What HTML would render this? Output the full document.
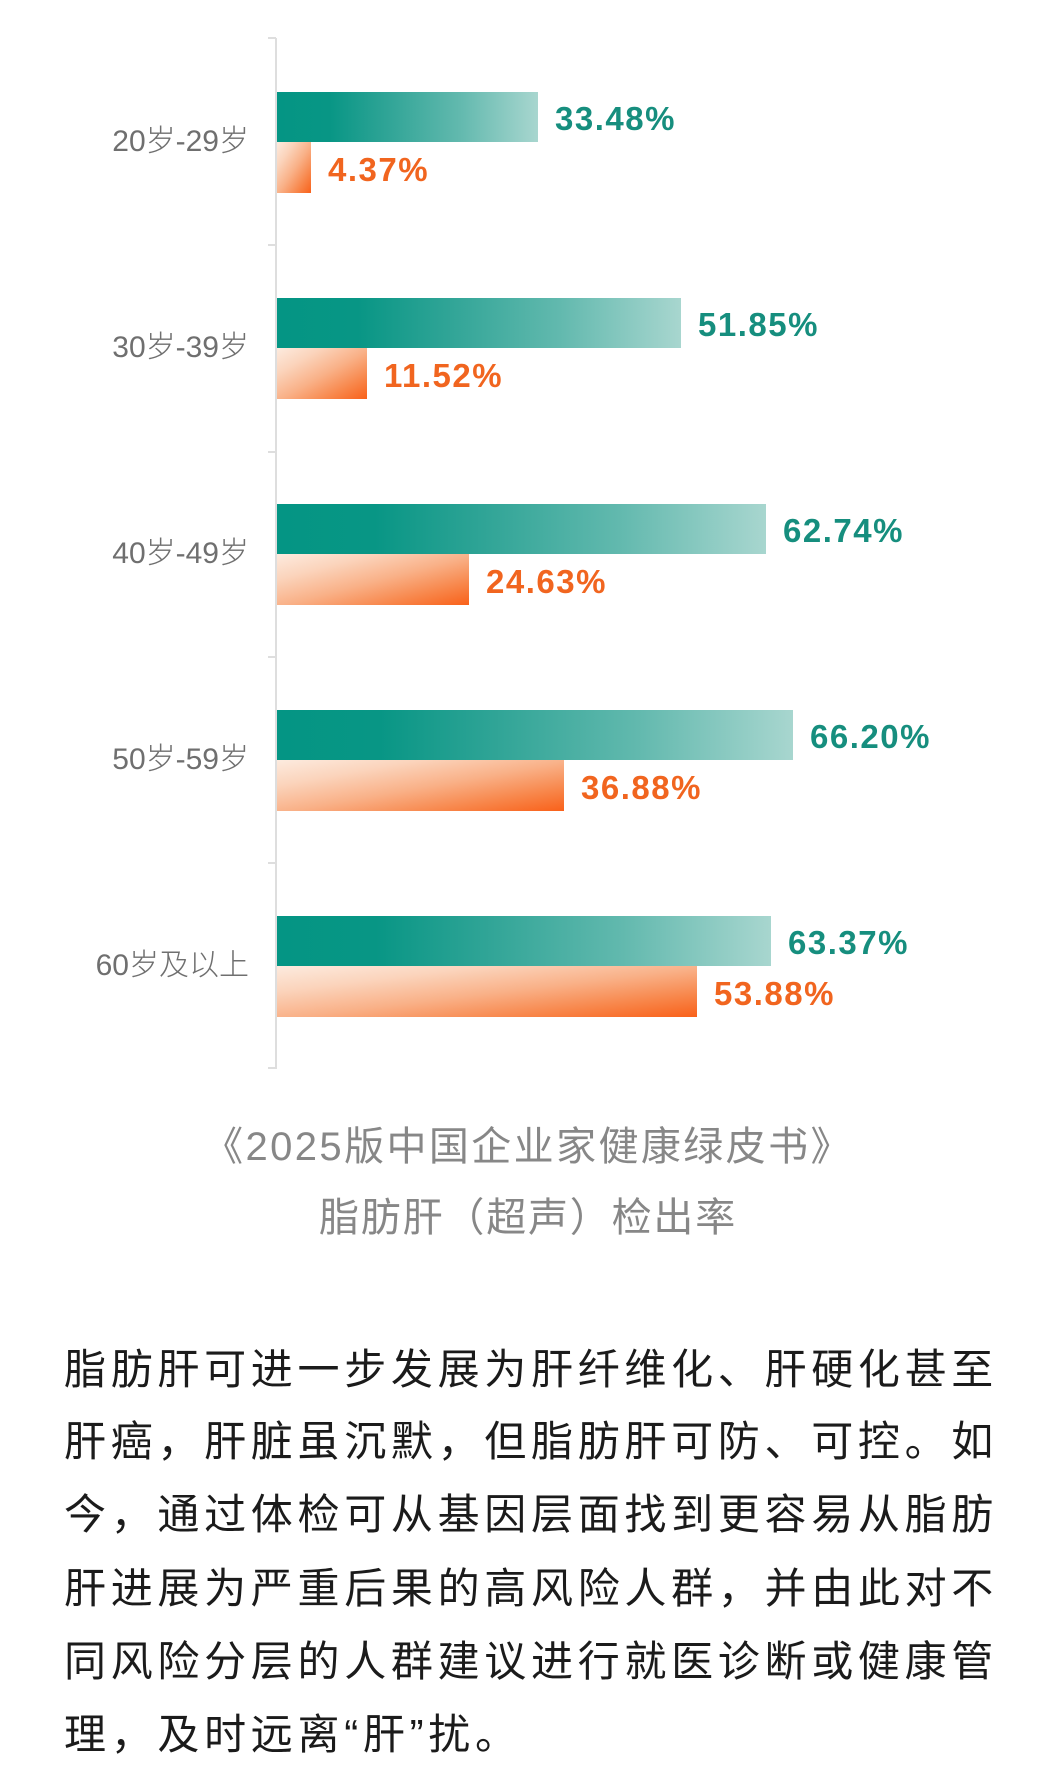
<!DOCTYPE html>
<html>
<head>
<meta charset="utf-8">
<style>
  html, body { margin:0; padding:0; background:#fff; }
  body { width:1052px; height:1764px; position:relative; overflow:hidden;
         font-family:"Liberation Sans","Noto Sans CJK SC",sans-serif; }
  .axis { position:absolute; left:275px; top:38px; width:2px; height:1031px; background:#dedede; }
  .tick { position:absolute; left:268px; width:8px; height:2px; background:#dedede; }
  .teal { position:absolute; left:277px; height:50px;
          background:linear-gradient(90deg,#049584 0%,#089685 20%,#2fa496 42%,#62b9ae 70%,#a8d6cf 100%); }
  .orng { position:absolute; left:277px; height:51px;
          background:linear-gradient(to bottom right,#fcebdf 0%,#fbd4bc 25%,#f9b188 52%,#f8864a 78%,#f9611a 100%); }
  .cat { position:absolute; left:0; width:249px; height:40px; line-height:40px; text-align:right;
         font-family:"Liberation Sans","Noto Sans CJK SC",sans-serif; font-size:30px; font-weight:300; color:#6f6f6f; white-space:nowrap; }
  .vt, .vo { position:absolute; height:40px; line-height:40px; font-size:33px; font-weight:bold;
             letter-spacing:1.5px; white-space:nowrap; font-family:"Liberation Sans",sans-serif; }
  .vt { color:#168e7e; }
  .vo { color:#f1651f; }
  .cap { position:absolute; left:0; width:1052px; text-align:center; font-size:40px; line-height:50px;
         color:#878787; white-space:nowrap;
         font-family:"Liberation Sans","Noto Sans CJK SC",sans-serif; }
  .bl { position:absolute; left:64px; font-size:42px; line-height:73px; height:73px; letter-spacing:4.7px;
        color:#1b1b1b; white-space:nowrap; font-family:"Liberation Sans","Noto Sans CJK SC",sans-serif; }
</style>
</head>
<body>
  <div class="axis"></div>
  <div class="tick" style="top:37px"></div>
  <div class="tick" style="top:244px"></div>
  <div class="tick" style="top:451px"></div>
  <div class="tick" style="top:656px"></div>
  <div class="tick" style="top:862px"></div>
  <div class="tick" style="top:1067px"></div>

  <!-- group 1 : c=142 -->
  <div class="cat" style="top:122px">20岁-29岁</div>
  <div class="teal" style="top:92px;width:261px"></div>
  <div class="orng" style="top:142px;width:34px"></div>
  <div class="vt" style="top:99px;left:555px">33.48%</div>
  <div class="vo" style="top:150px;left:328px">4.37%</div>

  <!-- group 2 : c=348 -->
  <div class="cat" style="top:328px">30岁-39岁</div>
  <div class="teal" style="top:298px;width:404px"></div>
  <div class="orng" style="top:348px;width:90px"></div>
  <div class="vt" style="top:305px;left:698px">51.85%</div>
  <div class="vo" style="top:356px;left:384px">11.52%</div>

  <!-- group 3 : c=554 -->
  <div class="cat" style="top:534px">40岁-49岁</div>
  <div class="teal" style="top:504px;width:489px"></div>
  <div class="orng" style="top:554px;width:192px"></div>
  <div class="vt" style="top:511px;left:783px">62.74%</div>
  <div class="vo" style="top:562px;left:486px">24.63%</div>

  <!-- group 4 : c=760 -->
  <div class="cat" style="top:740px">50岁-59岁</div>
  <div class="teal" style="top:710px;width:516px"></div>
  <div class="orng" style="top:760px;width:287px"></div>
  <div class="vt" style="top:717px;left:810px">66.20%</div>
  <div class="vo" style="top:768px;left:581px">36.88%</div>

  <!-- group 5 : c=966 -->
  <div class="cat" style="top:946px">60岁及以上</div>
  <div class="teal" style="top:916px;width:494px"></div>
  <div class="orng" style="top:966px;width:420px"></div>
  <div class="vt" style="top:923px;left:788px">63.37%</div>
  <div class="vo" style="top:974px;left:714px">53.88%</div>

  <!-- caption -->
  <div class="cap" style="top:1122px;letter-spacing:2.4px;padding-left:2px">《2025版中国企业家健康绿皮书》</div>
  <div class="cap" style="top:1193px;letter-spacing:1.8px;padding-left:2px">脂肪肝（超声）检出率</div>

  <!-- body text -->
  <div class="bl" style="top:1333px">脂肪肝可进一步发展为肝纤维化、肝硬化甚至</div>
  <div class="bl" style="top:1405px">肝癌，肝脏虽沉默，但脂肪肝可防、可控。如</div>
  <div class="bl" style="top:1478px">今，通过体检可从基因层面找到更容易从脂肪</div>
  <div class="bl" style="top:1552px">肝进展为严重后果的高风险人群，并由此对不</div>
  <div class="bl" style="top:1625px">同风险分层的人群建议进行就医诊断或健康管</div>
  <div class="bl" style="top:1698px">理，及时远离“肝”扰。</div>
</body>
</html>
